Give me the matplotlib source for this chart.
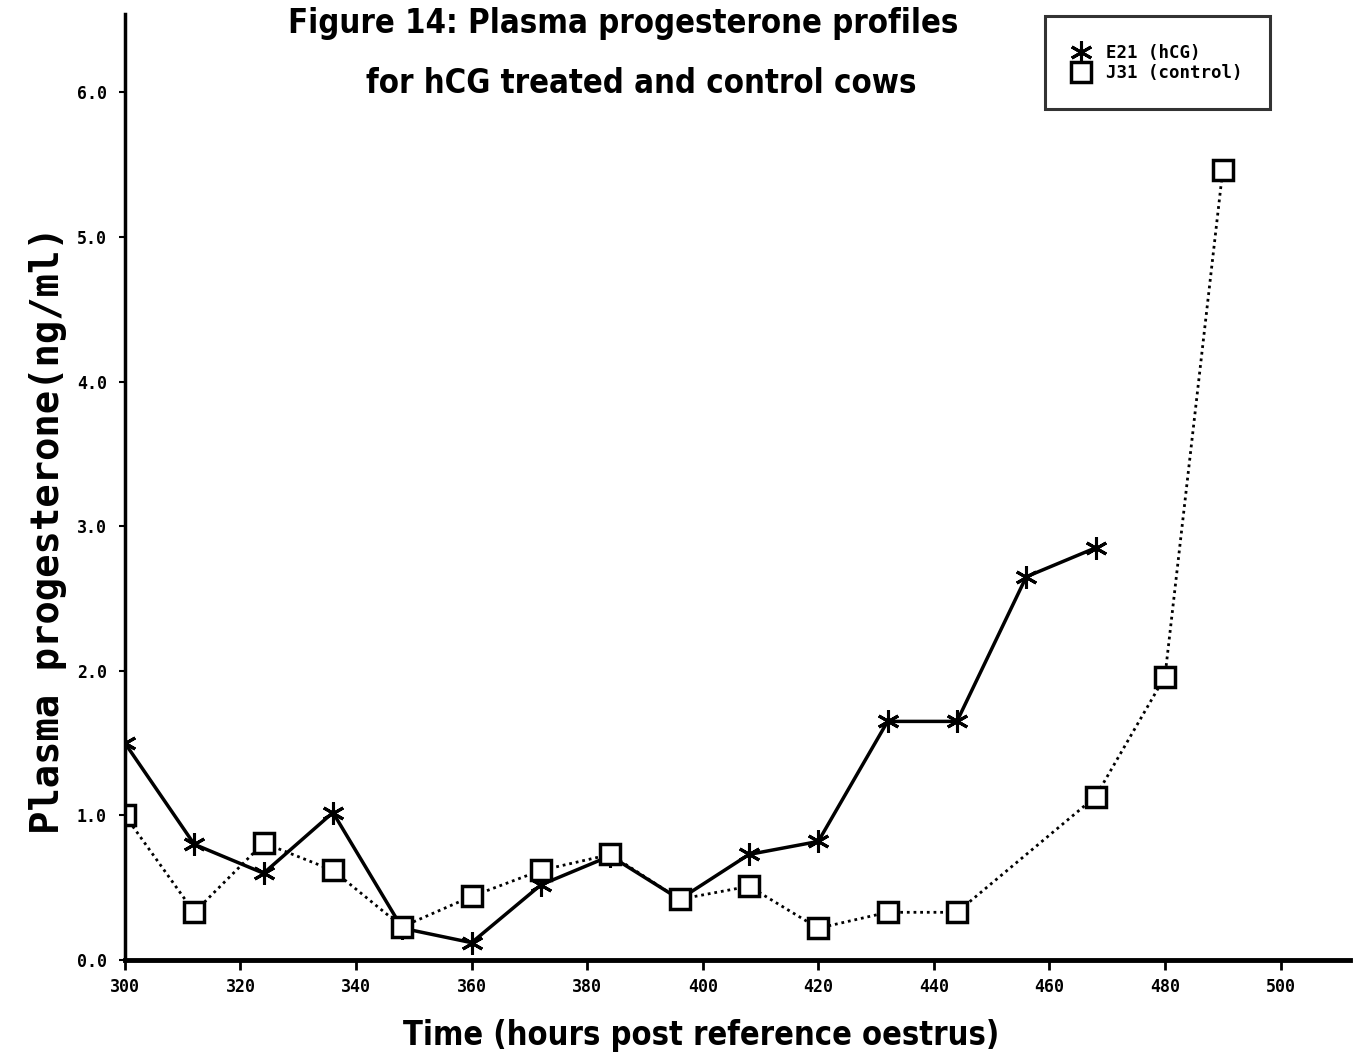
import matplotlib
matplotlib.use("Agg")
import matplotlib.pyplot as plt
from matplotlib import font_manager

# hours post reference oestrus
e21_hours = [300, 312, 324, 336, 348, 360, 372, 384, 396, 408, 420, 432, 444, 456, 468]
e21_p4 = [1.50, 0.80, 0.60, 1.02, 0.22, 0.12, 0.52, 0.72, 0.42, 0.73, 0.82, 1.65, 1.65, 2.65, 2.85]

j31_hours = [300, 312, 324, 336, 348, 360, 372, 384, 396, 408, 420, 432, 444, 468, 480, 490]
j31_p4 = [1.00, 0.33, 0.81, 0.62, 0.23, 0.44, 0.62, 0.73, 0.42, 0.51, 0.22, 0.33, 0.33, 1.13, 1.96, 5.46]

x_ticks = [300, 320, 340, 360, 380, 400, 420, 440, 460, 480, 500]
y_ticks = [0, 1, 2, 3, 4, 5, 6]

mono = ["DejaVu Sans Mono"]

# look for a narrow face for the title / x label
narrow_family, narrow_stretch = "DejaVu Sans", "normal"
for f in font_manager.fontManager.ttflist:
    if "Narrow" in f.name or "Condensed" in f.name:
        narrow_family, narrow_stretch = f.name, "normal"
        break
    if f.stretch in ("condensed", "semi-condensed", "extra-condensed"):
        narrow_family, narrow_stretch = f.name, f.stretch
        break

fig = plt.figure(figsize=(13.61, 10.58), dpi=100)
ax = fig.add_axes([0.0918, 0.0926, 0.9, 0.894])

asterisk = (6, 2, 0)
ax.plot(e21_hours, e21_p4, color="black", lw=2.5, ls="-",
        marker=asterisk, markersize=16, markeredgewidth=2.2, label="E21 (hCG)")
ax.plot(j31_hours, j31_p4, color="black", lw=2.0, ls=(0, (1, 1.4)),
        marker="s", markersize=14, markerfacecolor="white",
        markeredgecolor="black", markeredgewidth=2.5, label="J31 (control)")

ax.set_xlim(300, 512)
ax.set_ylim(0, 6.54)
ax.set_xticks(x_ticks)
ax.set_yticks(y_ticks)
ax.set_yticklabels([f"{v:.1f}" for v in y_ticks])
for lab in ax.get_xticklabels() + ax.get_yticklabels():
    lab.set_family(mono)
    lab.set_weight("bold")
    lab.set_fontsize(12)
ax.tick_params(axis="x", length=7, width=2, pad=6)
ax.tick_params(axis="y", length=4, width=1.5, pad=9)

ax.spines["top"].set_visible(False)
ax.spines["right"].set_visible(False)
ax.spines["left"].set_linewidth(2.5)
ax.spines["bottom"].set_linewidth(3.5)

ax.set_ylabel("Plasma progesterone(ng/ml)", family=mono, weight="bold",
              fontsize=28)
ax.yaxis.set_label_coords(-0.047, 0.455)

xlab = fig.text(0.515, 0.006, "Time (hours post reference oestrus)",
                family=narrow_family, stretch=narrow_stretch, weight="bold",
                fontsize=34, ha="center", va="bottom")

title1 = fig.text(0.458, 0.993, "Figure 14: Plasma progesterone profiles",
                  family=narrow_family, stretch=narrow_stretch, weight="bold",
                  fontsize=33, ha="center", va="top")
title2 = fig.text(0.471, 0.937, "for hCG treated and control cows",
                  family=narrow_family, stretch=narrow_stretch, weight="bold",
                  fontsize=33, ha="center", va="top")

# fit the narrow texts to the widths seen on the page
fig.canvas.draw()
r = fig.canvas.get_renderer()
for t, target in [(title1, 672), (title2, 553), (xlab, 598)]:
    w = t.get_window_extent(r).width
    t.set_fontsize(t.get_fontsize() * target / w)

leg = ax.legend(loc="upper left", bbox_to_anchor=(0.751, 0.998),
                prop={"family": mono, "weight": "bold", "size": 12.5},
                frameon=True, fancybox=False, edgecolor="black",
                handlelength=1.0, markerscale=1.0, borderpad=1.6,
                handletextpad=0.9, labelspacing=0.1, borderaxespad=0)
leg.get_frame().set_linewidth(2.2)
for h in leg.legend_handles:
    h.set_linestyle("none")

fig.savefig("out.png", dpi=100, facecolor="white")
